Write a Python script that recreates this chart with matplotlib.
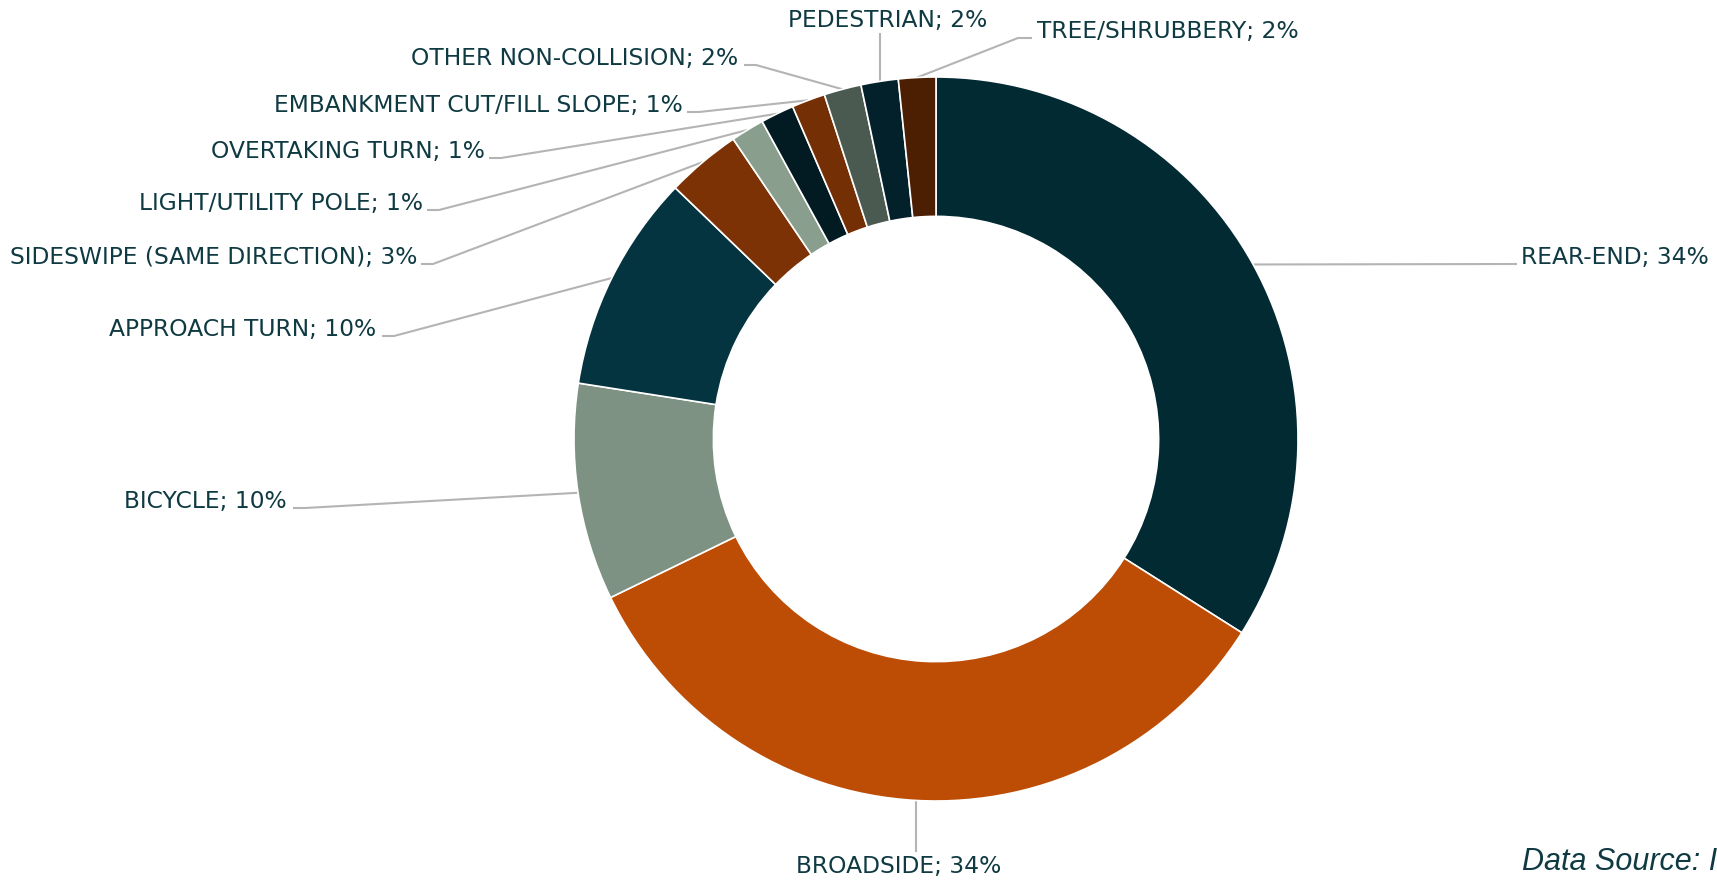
import matplotlib
matplotlib.use("Agg")
import matplotlib.pyplot as plt
import numpy as np

# ---- data (clockwise from 12 o'clock) ----
categories = ["REAR-END", "BROADSIDE", "BICYCLE", "APPROACH TURN",
              "SIDESWIPE (SAME DIRECTION)", "LIGHT/UTILITY POLE",
              "OVERTAKING TURN", "EMBANKMENT CUT/FILL SLOPE",
              "OTHER NON-COLLISION", "PEDESTRIAN", "TREE/SHRUBBERY"]
shares = [33.94, 33.75, 9.67, 9.72, 3.33, 1.49, 1.49, 1.49, 1.66, 1.66, 1.66]
pct_labels = [34, 34, 10, 10, 3, 1, 1, 1, 2, 2, 2]
colors = ["#022a33", "#bd4c05", "#7e9283", "#04343f", "#7d3206", "#8a9e8e",
          "#021a21", "#752f05", "#4b5a50", "#03212a", "#4c1f02"]
source_text = "Data Source: I"

# ---- layout (image pixel coords, y downward) ----
W, H = 1717, 880
CX, CY, R = 936, 439, 362
HOLE = 0.615
TEXT_COLOR = "#0f3a42"
LINE_COLOR = "#b4b4b4"

# (text x, text baseline y, ha, elbow x, elbow y)
label_layout = [
    (1521, 264, "left", 1517, 264),     # rear-end
    (899, 873, "center", None, 852),    # broadside (vertical leader)
    (287, 508, "right", 305, 508),      # bicycle
    (376, 336, "right", 394, 336),      # approach
    (417, 264, "right", 433, 264),      # sideswipe
    (423, 210, "right", 439, 210),      # light pole
    (485, 158, "right", 501, 158),      # overtaking
    (683, 112, "right", 699, 112),      # embankment
    (738, 65, "right", 756, 65),        # other non-collision
    (888, 27, "center", None, 33),      # pedestrian (vertical leader)
    (1037, 38, "left", 1018, 38),       # tree
]

fig = plt.figure(figsize=(W / 100, H / 100), dpi=100)
ax = fig.add_axes([0, 0, 1, 1])

def Y(y):
    return H - y

wedges, _ = ax.pie(shares, colors=colors, startangle=90, counterclock=False,
                   center=(CX, Y(CY)), radius=R,
                   wedgeprops=dict(width=R * (1 - HOLE), edgecolor="white", linewidth=1.2))
ax.set_xlim(0, W)
ax.set_ylim(0, H)
ax.set_aspect("equal")
ax.axis("off")

for w, cat, pct, lay in zip(wedges, categories, pct_labels, label_layout):
    tx, ty, ha, ex, ey = lay
    mid = np.deg2rad((w.theta1 + w.theta2) / 2)
    px = CX + R * np.cos(mid)
    py = Y(CY) + R * np.sin(mid)
    if ex is None:
        xs, ys = [px, px], [py, Y(ey)]
    elif cat == "REAR-END":
        xs, ys = [px, ex], [py, Y(ey)]
    elif ha == "left":
        xs = [px, ex, ex + 14]
        ys = [py, Y(ey), Y(ey)]
    else:
        xs = [px, ex, ex - 12]
        ys = [py, Y(ey), Y(ey)]
    ax.plot(xs, ys, color=LINE_COLOR, lw=1.5, solid_capstyle="butt", zorder=0)
    ax.text(tx, Y(ty), f"{cat}; {pct}%", ha=ha, va="baseline",
            fontsize=16.8, color=TEXT_COLOR, family="DejaVu Sans")

ax.text(1522, Y(870), source_text, ha="left", va="baseline", fontsize=22,
        style="italic", color=TEXT_COLOR, family="Liberation Sans")

fig.savefig("out.png", dpi=100, facecolor="white")
